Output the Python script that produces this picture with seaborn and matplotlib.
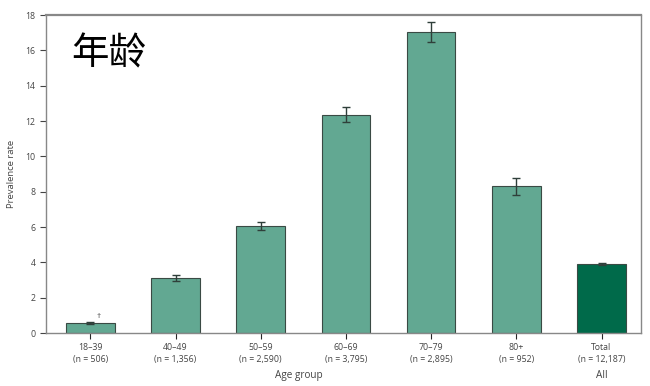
import matplotlib
matplotlib.use("Agg")
import matplotlib.pyplot as plt
import seaborn as sns
import pandas as pd

categories = ["18–39", "40–49", "50–59", "60–69", "70–79", "80+", "Total"]
sample_sizes = ["506", "1,356", "2,590", "3,795", "2,895", "952", "12,187"]
rates = [0.57, 3.12, 6.05, 12.35, 17.03, 8.3, 3.92]
errors = [0.08, 0.17, 0.22, 0.42, 0.57, 0.5, 0.05]
tick_labels = [f"{c}\n(n = {n})" for c, n in zip(categories, sample_sizes)]
bar_colors = ["#62A892"] * 6 + ["#006A4A"]

df = pd.DataFrame({"group": categories, "rate": rates})

sns.set_theme(style="white")
plt.rcParams['font.family'] = ['Open Sans', 'Noto Sans CJK SC', 'DejaVu Sans']

fig = plt.figure(figsize=(6.5, 3.86), dpi=100)
ax = fig.add_axes([0.0708, 0.137, 0.915, 0.824])

sns.barplot(data=df, x="group", y="rate", hue="group", palette=bar_colors,
            legend=False, width=0.57, edgecolor="#3a4a44", linewidth=0.8,
            saturation=1, ax=ax)
ax.errorbar(x=list(range(len(categories))), y=rates, yerr=errors, fmt="none",
            ecolor="#2f3f3a", elinewidth=1.0, capsize=3, capthick=1.0)

ax.set_xlim(-0.52, 6.46)
ax.set_ylim(0, 18)
ax.set_yticks(range(0, 19, 2))
ax.set_xticks(range(len(categories)))
ax.set_xticklabels(tick_labels, fontsize=6.3, color="#444444", linespacing=1.5)
ax.tick_params(axis="y", labelsize=6.3, colors="#444444", length=4, width=0.8, direction="out", left=True)
ax.tick_params(axis="x", length=4, width=0.8, direction="out", bottom=True, pad=3)
for s in ax.spines.values():
    s.set_color("#888888")
    s.set_linewidth(1.0)
ax.spines["top"].set_linewidth(1.6)

ax.set_xlabel("")
ax.set_ylabel("Prevalence rate", fontsize=6.8, color="#444444", labelpad=7)

ax.text(0.1, 0.76, "†", fontsize=6, color="#444444", ha="center", va="bottom")

fig.text(0.46, 0.012, "Age group", fontsize=7.2, color="#444444", ha="center", va="bottom")
fig.text(0.926, 0.012, "All", fontsize=7.2, color="#444444", ha="center", va="bottom")

fig.text(0.11, 0.86, "年龄", fontsize=27, color="black", ha="left", va="center",
         family=['Noto Sans CJK SC', 'DejaVu Sans'])

fig.savefig("out.png", dpi=100)
